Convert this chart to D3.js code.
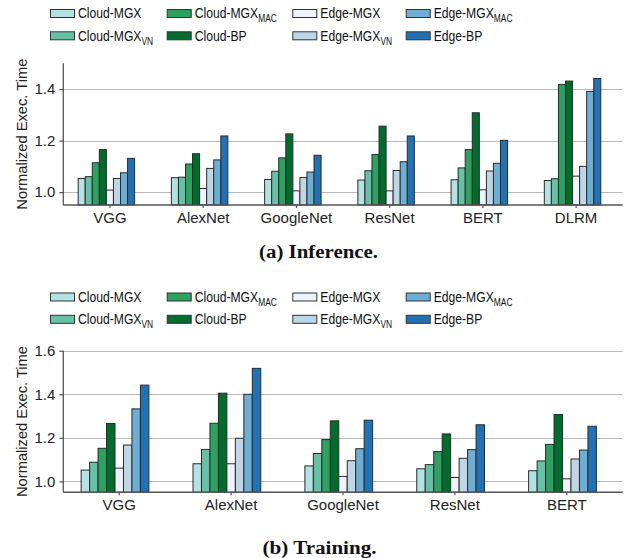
<!DOCTYPE html>
<html>
<head>
<meta charset="utf-8">
<script src="https://cdn.jsdelivr.net/npm/d3@7/dist/d3.min.js"></script>
<style>
  html, body { margin: 0; padding: 0; background: #fff; }
  svg { display: block; }
</style>
</head>
<body>
<svg id="chart" width="636" height="558"></svg>
<script>
// ---------- DATA ----------
const seriesNames = ["Cloud-MGX", "Cloud-MGX|VN", "Cloud-MGX|MAC", "Cloud-BP",
                     "Edge-MGX", "Edge-MGX|VN", "Edge-MGX|MAC", "Edge-BP"];
const seriesColors = ["#b2e2e2", "#66c2a4", "#2ca25f", "#006d2c",
                      "#eff3ff", "#bdd7e7", "#6baed6", "#2171b5"];

const inferenceCategories = ["VGG", "AlexNet", "GoogleNet", "ResNet", "BERT", "DLRM"];
const infCloudMGX    = [1.053, 1.056, 1.049, 1.047, 1.048, 1.045];
const infCloudMGXVN  = [1.060, 1.058, 1.081, 1.083, 1.094, 1.052];
const infCloudMGXMAC = [1.114, 1.109, 1.133, 1.146, 1.165, 1.418];
const infCloudBP     = [1.165, 1.149, 1.226, 1.256, 1.308, 1.431];
const infEdgeMGX     = [1.008, 1.014, 1.005, 1.005, 1.009, 1.062];
const infEdgeMGXVN   = [1.053, 1.092, 1.057, 1.084, 1.082, 1.100];
const infEdgeMGXMAC  = [1.075, 1.125, 1.078, 1.118, 1.112, 1.391];
const infEdgeBP      = [1.131, 1.218, 1.143, 1.218, 1.201, 1.441];
const inferenceTicks = [1.0, 1.2, 1.4];

const trainingCategories = ["VGG", "AlexNet", "GoogleNet", "ResNet", "BERT"];
const trnCloudMGX    = [1.052, 1.081, 1.071, 1.058, 1.049];
const trnCloudMGXVN  = [1.088, 1.147, 1.128, 1.077, 1.094];
const trnCloudMGXMAC = [1.152, 1.267, 1.192, 1.137, 1.170];
const trnCloudBP     = [1.266, 1.405, 1.278, 1.218, 1.307];
const trnEdgeMGX     = [1.061, 1.081, 1.023, 1.018, 1.012];
const trnEdgeMGXVN   = [1.167, 1.198, 1.095, 1.106, 1.103];
const trnEdgeMGXMAC  = [1.333, 1.400, 1.150, 1.146, 1.144];
const trnEdgeBP      = [1.442, 1.519, 1.281, 1.260, 1.253];
const trainingTicks = [1.0, 1.2, 1.4, 1.6];

const yLabel = "Normalized Exec. Time";
const captionA = "(a) Inference.";
const captionB = "(b) Training.";

// ---------- DRAW ----------
const svg = d3.select("#chart");
const sansFont = "'Liberation Sans', Arial, Helvetica, sans-serif";
const serifFont = "'Liberation Serif', 'DejaVu Serif', serif";

function drawLegend(top) {
  const colX = [50, 166.7, 292.3, 405.7];
  const rowY = [0, 22.3];
  const g = svg.append("g").attr("transform", `translate(0,${top})`);
  seriesNames.forEach((name, i) => {
    const col = Math.floor(i / 2), row = i % 2;
    const gx = colX[col], gy = rowY[row];
    g.append("rect")
      .attr("x", gx + 0.5).attr("y", gy + 0.5)
      .attr("width", 24).attr("height", 8)
      .attr("fill", seriesColors[i])
      .attr("stroke", "#333").attr("stroke-width", 1);
    const parts = name.split("|");
    const t = g.append("text")
      .attr("transform", `translate(${gx + 28},${gy + 9.3}) scale(0.8,1)`)
      .attr("font-family", sansFont)
      .attr("font-size", 15.2)
      .attr("fill", "#111");
    t.append("tspan").text(parts[0]);
    if (parts[1]) {
      t.append("tspan").attr("dy", 4).attr("font-size", 10.5).text(parts[1]);
    }
  });
}

function drawChart(opts) {
  const { top, bottom, domainTop, categories, series, ticks } = opts;
  const left = 63.3, right = 622.7;
  const x = d3.scaleBand().domain(categories).range([left, right]).paddingInner(0).paddingOuter(0);
  const y = d3.scaleLinear().domain([0.95, domainTop]).range([bottom, top]);
  const g = svg.append("g");

  // gridlines
  g.append("g").selectAll("line").data(ticks).join("line")
    .attr("x1", left).attr("x2", right)
    .attr("y1", d => Math.round(y(d)) + 0.5).attr("y2", d => Math.round(y(d)) + 0.5)
    .attr("stroke", "#b8b8b8").attr("stroke-width", 1.2);

  // bars
  const bw = x.bandwidth() * 0.0757;
  series.forEach((vals, si) => {
    g.append("g").selectAll("rect").data(categories).join("rect")
      .attr("x", c => x(c) + x.bandwidth() / 2 - 4.5 * bw + si * bw)
      .attr("y", (c, ci) => y(vals[ci]))
      .attr("width", bw)
      .attr("height", (c, ci) => y(0.95) - y(vals[ci]))
      .attr("fill", seriesColors[si])
      .attr("stroke", "#2a2a2a").attr("stroke-width", 1);
  });

  // y axis
  const yAxis = g.append("g").attr("transform", `translate(${left},0)`)
    .call(d3.axisLeft(y).tickValues(ticks).tickFormat(d3.format(".1f")).tickSize(4).tickPadding(4));
  yAxis.select(".domain").attr("stroke", "#555").attr("stroke-width", 1.3).attr("d", `M0,${top}V${bottom}`);
  yAxis.selectAll(".tick line").attr("stroke", "#555").attr("stroke-width", 1.2);
  yAxis.selectAll(".tick text").attr("font-family", sansFont).attr("font-size", 15).attr("fill", "#222");

  // x axis
  const xAxis = g.append("g").attr("transform", `translate(0,${bottom})`)
    .call(d3.axisBottom(x).tickSize(3).tickPadding(4));
  xAxis.select(".domain").attr("stroke", "#555").attr("stroke-width", 1.5).attr("d", `M${left},0H${right}`);
  xAxis.selectAll(".tick line").attr("stroke", "#555").attr("stroke-width", 1.2);
  xAxis.selectAll(".tick text").attr("font-family", sansFont).attr("font-size", 15).attr("fill", "#222");

  // y label
  svg.append("text")
    .attr("transform", `translate(26.5,${(top + bottom) / 2}) rotate(-90)`)
    .attr("text-anchor", "middle")
    .attr("font-family", sansFont).attr("font-size", 14.7).attr("fill", "#222")
    .text(yLabel);
}

function drawCaption(text, cx, baseline, width) {
  svg.append("text").attr("x", cx - width / 2).attr("y", baseline)
    .attr("font-family", serifFont).attr("font-weight", "bold")
    .attr("font-size", 18).attr("fill", "#111")
    .attr("textLength", width).attr("lengthAdjust", "spacingAndGlyphs")
    .text(text);
}

drawLegend(9);
drawChart({
  top: 63.3, bottom: 205, domainTop: 1.5,
  categories: inferenceCategories,
  series: [infCloudMGX, infCloudMGXVN, infCloudMGXMAC, infCloudBP, infEdgeMGX, infEdgeMGXVN, infEdgeMGXMAC, infEdgeBP],
  ticks: inferenceTicks
});
drawCaption(captionA, 318.5, 257.5, 119);

drawLegend(292.5);
drawChart({
  top: 350.7, bottom: 492.3, domainTop: 1.6,
  categories: trainingCategories,
  series: [trnCloudMGX, trnCloudMGXVN, trnCloudMGXMAC, trnCloudBP, trnEdgeMGX, trnEdgeMGXVN, trnEdgeMGXMAC, trnEdgeBP],
  ticks: trainingTicks
});
drawCaption(captionB, 319.5, 553.5, 114);
</script>
</body>
</html>
